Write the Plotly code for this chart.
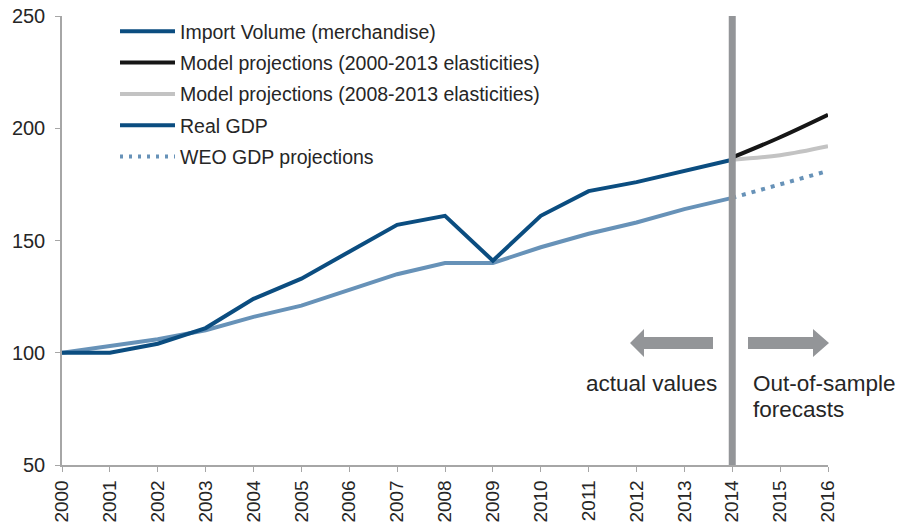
import plotly.graph_objects as go

years = list(range(2000, 2017))
hist_years = list(range(2000, 2015))
proj_years = [2014, 2015, 2016]

import_volume = [100, 100, 104, 111, 124, 133, 145, 157, 161, 141, 161, 172, 176, 181, 186]
real_gdp = [100, 103, 106, 110, 116, 121, 128, 135, 140, 140, 147, 153, 158, 164, 169]
model_2000_2013 = [187, 196, 206]
model_2008_2013 = [186, 188, 192]
weo_gdp = [169, 175, 181]

series_names = [
    "Import Volume (merchandise)",
    "Model projections (2000-2013 elasticities)",
    "Model projections (2008-2013 elasticities)",
    "Real GDP",
    "WEO GDP projections",
]

DARK = "#0b4d80"
LIGHT = "#6792b8"
BLACK = "#161616"
GREY = "#c3c3c3"
BAR = "#939598"
AX = "#a6a6a6"
TXT = "#262626"
FONT = "Liberation Sans, Arial, sans-serif"

# page body has an 8px margin: size the figure so it fills the window
OFF = 8
W, H = 905 - OFF, 528 - OFF
# plot area in window pixels
PL, PR, PT, PB = 62, 828, 16, 465
L, R, T, B = PL - OFF, 905 - PR, PT - OFF, 528 - PB
PW, PH = PR - PL, PB - PT

fig = go.Figure()

fig.add_trace(go.Scatter(x=hist_years, y=real_gdp, mode="lines",
                         line=dict(color=LIGHT, width=4), showlegend=False))
fig.add_trace(go.Scatter(x=proj_years, y=weo_gdp, mode="lines",
                         line=dict(color=LIGHT, width=4, dash="4px,6px"), showlegend=False))
fig.add_trace(go.Scatter(x=hist_years, y=import_volume, mode="lines",
                         line=dict(color=DARK, width=4), showlegend=False))
fig.add_trace(go.Scatter(x=proj_years, y=model_2008_2013, mode="lines",
                         line=dict(color=GREY, width=4, shape="spline"), showlegend=False))
fig.add_trace(go.Scatter(x=proj_years, y=model_2000_2013, mode="lines",
                         line=dict(color=BLACK, width=4, shape="spline"), showlegend=False))

legend_styles = [
    dict(color=DARK, width=4),
    dict(color=BLACK, width=4),
    dict(color=GREY, width=4),
    dict(color=DARK, width=4),
    dict(color=LIGHT, width=4, dash="3px,6px"),
]
for i, (name, st) in enumerate(zip(series_names, legend_styles)):
    fig.add_trace(go.Scatter(x=[None], y=[None], mode="lines", name=name,
                             line=st, legendgroup=f"g{i}", showlegend=True))


def px_x(p):
    return (p - PL) / PW


def px_y(p):
    return (PB - p) / PH


shapes = [
    dict(type="line", xref="x", yref="paper", x0=2014, x1=2014, y0=0, y1=1,
         line=dict(color=BAR, width=7), layer="above"),
]

cy = 343


def arrow(tip, head_base, body_end):
    return ("M {tx},{cy} L {hb},{ht} L {hb},{bt} L {be},{bt} L {be},{bb} "
            "L {hb},{bb} L {hb},{hbot} Z").format(
        tx=px_x(tip), cy=px_y(cy), hb=px_x(head_base), ht=px_y(cy - 14),
        bt=px_y(cy - 6), be=px_x(body_end), bb=px_y(cy + 6), hbot=px_y(cy + 14))


for p in (arrow(630, 644, 713), arrow(829, 813, 748)):
    shapes.append(dict(type="path", xref="paper", yref="paper", path=p,
                       fillcolor=BAR, line=dict(width=0), layer="above"))

afont = dict(size=22.5, color=TXT, family=FONT)
annotations = [
    dict(text="actual values", xref="paper", yref="paper", x=px_x(719), y=px_y(383),
         xanchor="right", yanchor="middle", showarrow=False, font=afont),
    dict(text="Out-of-sample", xref="paper", yref="paper", x=px_x(751), y=px_y(383),
         xanchor="left", yanchor="middle", showarrow=False, font=afont),
    dict(text="forecasts", xref="paper", yref="paper", x=px_x(751), y=px_y(409),
         xanchor="left", yanchor="middle", showarrow=False, font=afont),
]

fig.update_layout(
    width=W, height=H,
    margin=dict(l=L, r=R, t=T, b=B, autoexpand=False),
    paper_bgcolor="white", plot_bgcolor="white",
    font=dict(family=FONT, color=TXT, size=19),
    shapes=shapes, annotations=annotations,
    legend=dict(x=px_x(115), y=px_y(12), xanchor="left", yanchor="top",
                bgcolor="rgba(0,0,0,0)", font=dict(size=19.5, family=FONT, color=TXT),
                traceorder="grouped", tracegroupgap=3, itemwidth=55),
)
fig.update_xaxes(range=[2000, 2016], tickmode="array", tickvals=years,
                 ticktext=[str(y) for y in years], tickangle=-90,
                 showline=True, linecolor=AX, linewidth=1.5,
                 ticks="outside", ticklen=5, tickcolor=AX, ticklabelstandoff=1,
                 ticklabeloverflow="allow",
                 showgrid=False, zeroline=False, automargin=False,
                 tickfont=dict(size=19, color=TXT))
fig.update_yaxes(range=[50, 250], tickvals=[50, 100, 150, 200, 250],
                 showline=True, linecolor=AX, linewidth=1.5,
                 ticks="outside", ticklen=5, tickcolor=AX, ticklabelstandoff=6,
                 ticklabeloverflow="allow",
                 showgrid=False, zeroline=False, automargin=False,
                 tickfont=dict(size=20, color=TXT))

fig.write_html("out.html")
